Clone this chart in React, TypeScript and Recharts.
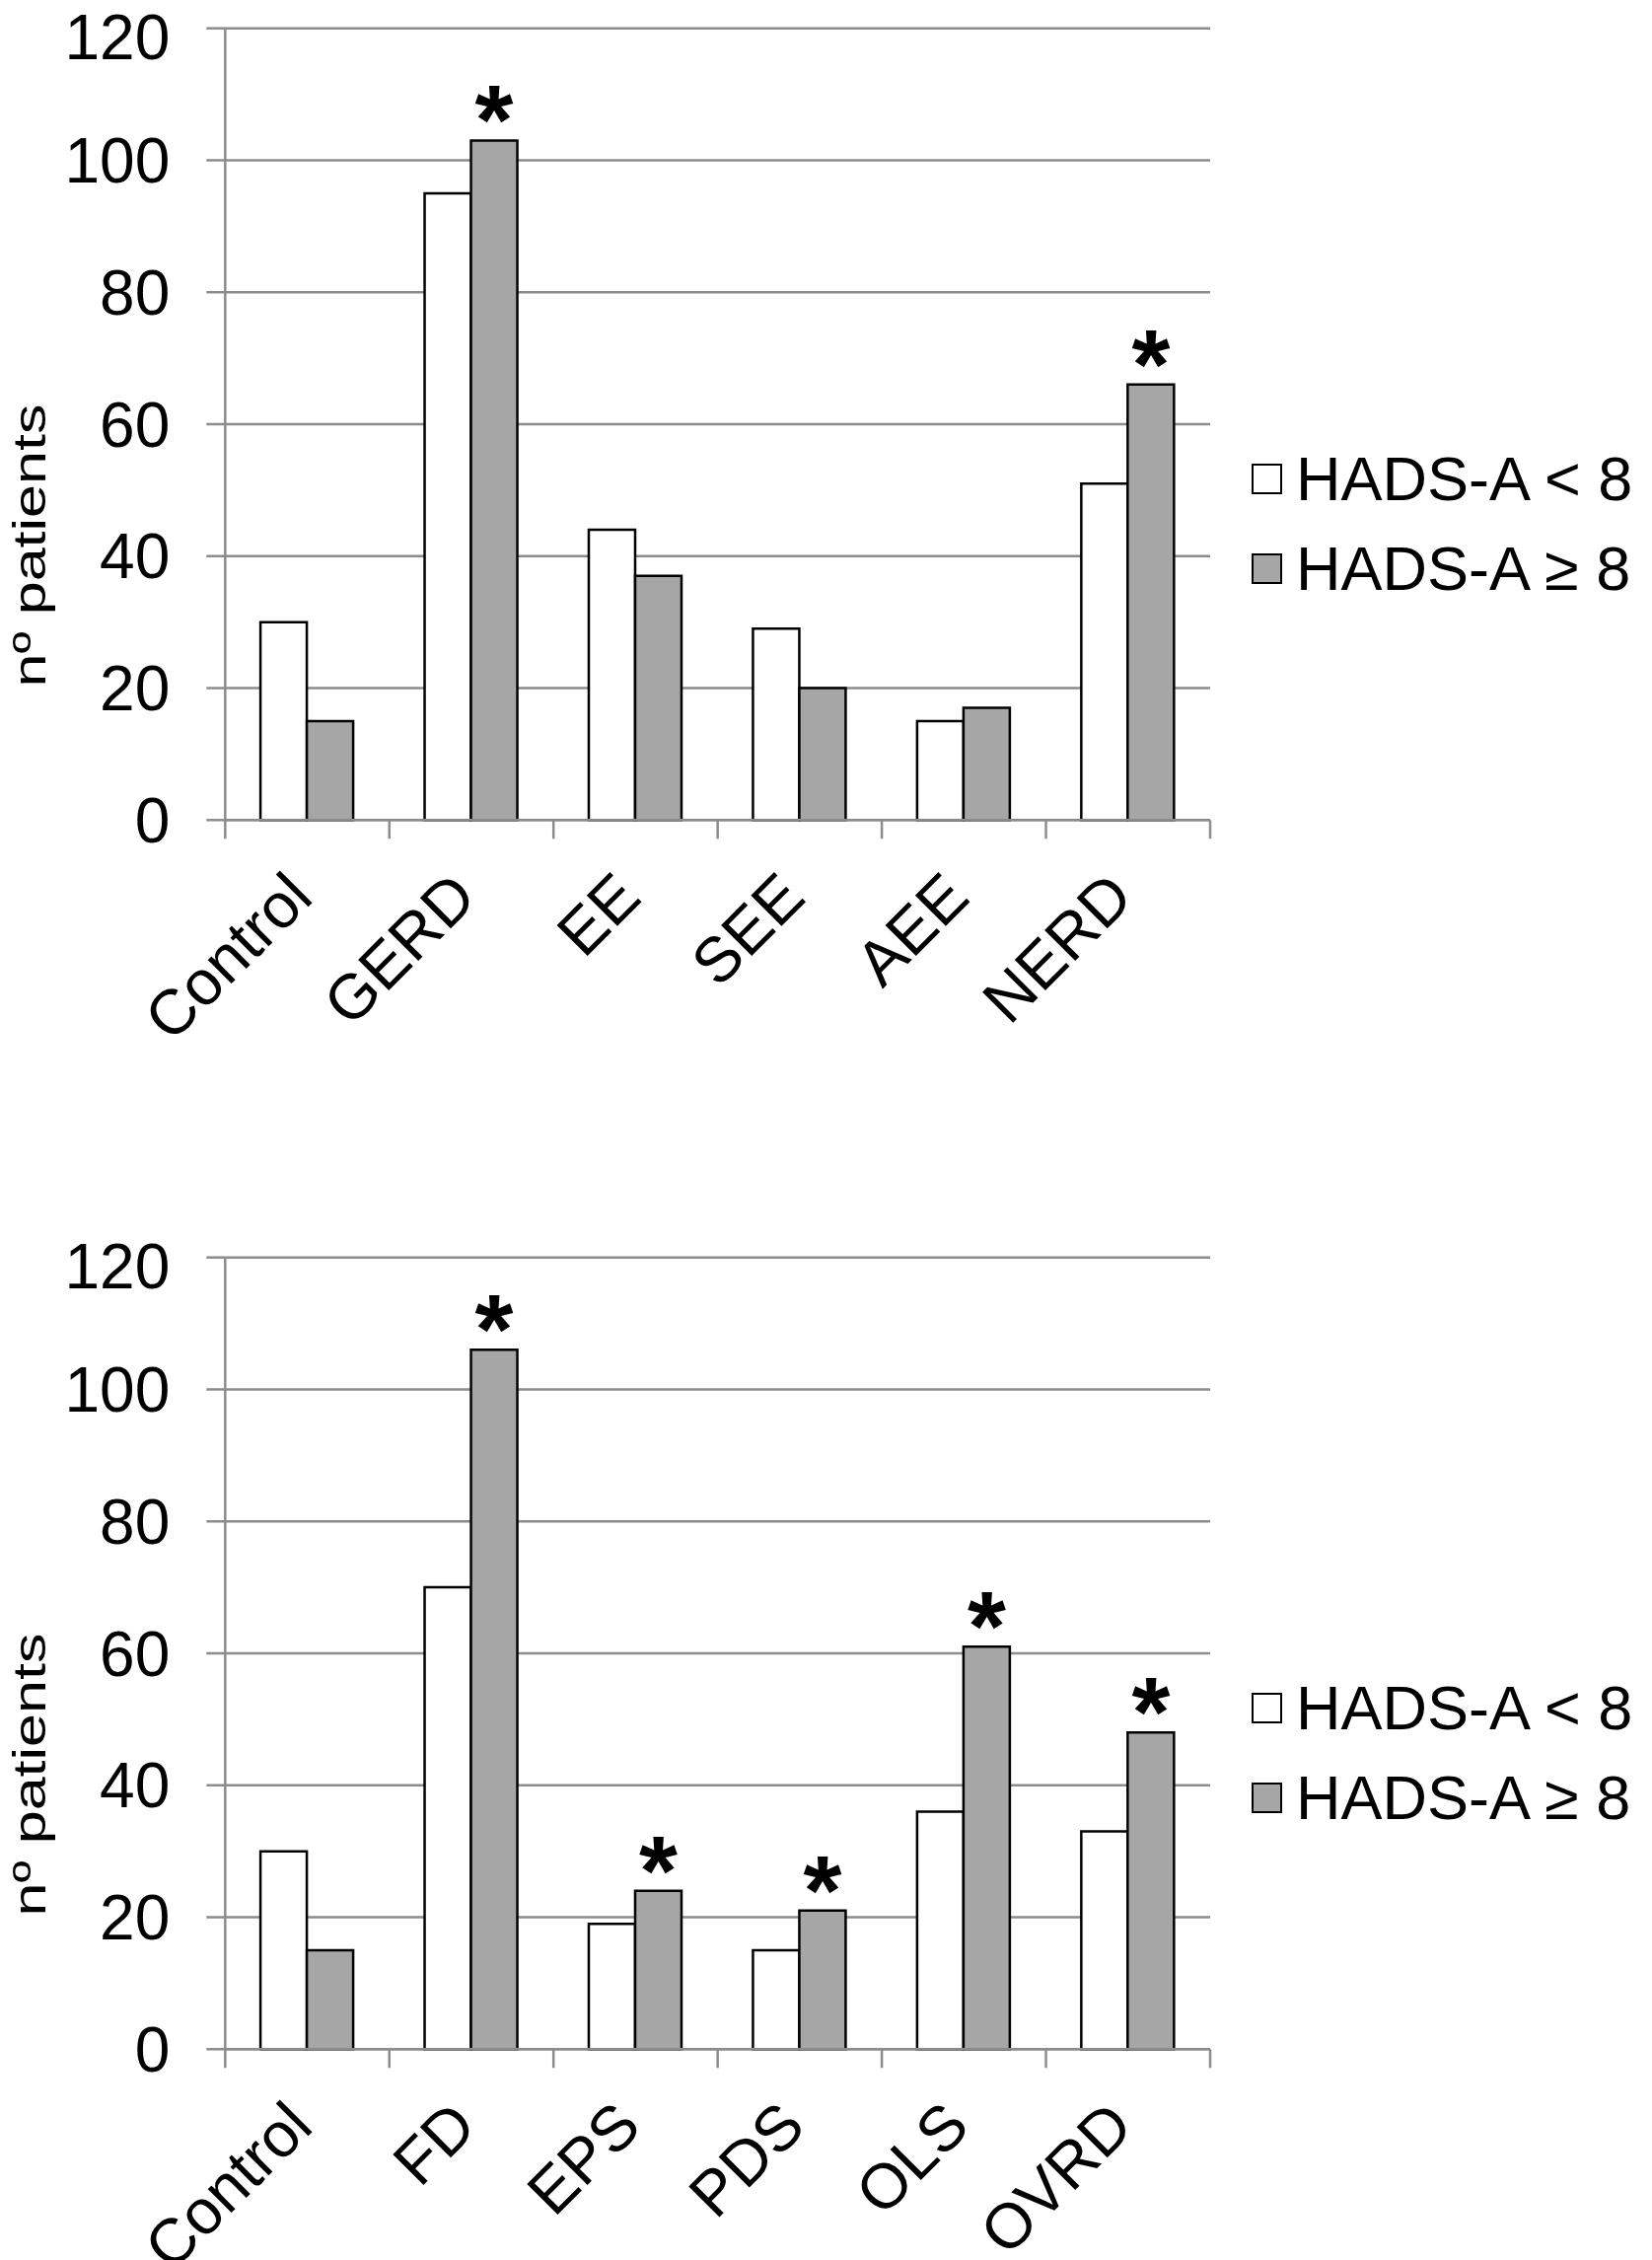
import { BarChart, Bar, XAxis, YAxis, CartesianGrid, Legend, LabelList } from 'recharts';

const FONT = '"Liberation Sans", Arial, sans-serif';
const GRID = '#8c8c8c';
const DARK_FILL = '#a6a6a6';

const topCategories = ['Control', 'GERD', 'EE', 'SEE', 'AEE', 'NERD'];
const topLow = [30, 95, 44, 29, 15, 51];
const topHigh = [15, 103, 37, 20, 17, 66];
const topSig = [false, true, false, false, false, true];

const bottomCategories = ['Control', 'FD', 'EPS', 'PDS', 'OLS', 'OVRD'];
const bottomLow = [30, 70, 19, 15, 36, 33];
const bottomHigh = [15, 106, 24, 21, 61, 48];
const bottomSig = [false, true, true, true, true, true];

const yTicks = [0, 20, 40, 60, 80, 100, 120];
const legendLabels = ['HADS-A < 8', 'HADS-A ≥ 8'];
const yLabel = 'nº patients';

const PLOT_W = 998.7;

// category name at -45deg, plus the Excel-style tick marks on the band edges
const CatTick = (props: any) => {
    const { x, y, payload, index, count } = props;
    const half = payload?.offset || PLOT_W / count / 2;
    const ax = x + 8;
    const ay = y + 81;
    return (
        <g>
            <line x1={x - half} x2={x - half} y1={y} y2={y + 19} stroke={GRID} strokeWidth={2.5} />
            {index === count - 1 && (
                <line x1={x + half} x2={x + half} y1={y} y2={y + 19} stroke={GRID} strokeWidth={2.5} />
            )}
            <text
                x={ax}
                y={ay}
                transform={`rotate(-45, ${ax}, ${ay})`}
                textAnchor="end"
                fontSize={64}
                fontFamily={FONT}
                fill="#000"
            >
                {payload.value}
            </text>
        </g>
    );
};

const YLabel = () => (
    <text
        x={46}
        y={553}
        transform="rotate(-90, 46, 553)"
        textAnchor="middle"
        fontSize={46}
        fontFamily={FONT}
        fill="#000"
        textLength={287}
        lengthAdjust="spacingAndGlyphs"
    >
        {yLabel}
    </text>
);

const LegendBox = () => (
    <div style={{ fontFamily: FONT, fontSize: 63, lineHeight: '63px', color: '#000' }}>
        {legendLabels.map((label, i) => (
            <div key={label} style={{ display: 'flex', alignItems: 'center', height: 91 }}>
                <div
                    style={{
                        width: 27,
                        height: 27,
                        border: '2px solid #000',
                        background: i === 0 ? '#fff' : DARK_FILL,
                        marginRight: 14,
                        flexShrink: 0
                    }}
                />
                <span style={{ whiteSpace: 'nowrap' }}>{label}</span>
            </div>
        ))}
    </div>
);

type PanelProps = {
    categories: string[];
    low: number[];
    high: number[];
    sig: boolean[];
};

const Panel = ({ categories, low, high, sig }: PanelProps) => {
    const data = categories.map((name, i) => ({ name, low: low[i], high: high[i] }));

    const renderStar = (p: any) => {
        if (!sig[p.index]) return null;
        return (
            <text
                key={`star-${p.index}`}
                x={p.x + p.width / 2}
                y={p.y + 14}
                textAnchor="middle"
                fontSize={100}
                fontWeight="bold"
                fontFamily={FONT}
                fill="#000"
            >
                *
            </text>
        );
    };

    return (
        <BarChart
            width={1675}
            height={1246}
            data={data}
            margin={{ top: 28.7, right: 448, left: 0, bottom: 0 }}
            barCategoryGap="21.5%"
            barGap={0}
        >
            <CartesianGrid horizontal vertical={false} stroke={GRID} strokeWidth={2.5} />
            <XAxis
                dataKey="name"
                height={414.7}
                axisLine={{ stroke: GRID, strokeWidth: 2.5 }}
                tickLine={false}
                tickSize={0}
                tickMargin={0}
                interval={0}
                tick={(p: any) => <CatTick {...p} count={categories.length} />}
            />
            <YAxis
                width={228.3}
                domain={[0, 120]}
                ticks={yTicks}
                tickSize={19}
                tickMargin={37}
                axisLine={{ stroke: GRID, strokeWidth: 2.5 }}
                tickLine={{ stroke: GRID, strokeWidth: 2.5 }}
                tick={{ fontSize: 64, fill: '#000', fontFamily: FONT }}
                label={<YLabel />}
            />
            <Legend
                layout="vertical"
                align="center"
                verticalAlign="middle"
                content={<LegendBox />}
                wrapperStyle={{ position: 'absolute', left: 1269, top: 440, width: 406, height: 182 }}
            />
            <Bar
                dataKey="low"
                name={legendLabels[0]}
                fill="#fff"
                stroke="#000"
                strokeWidth={2.5}
                isAnimationActive={false}
            />
            <Bar
                dataKey="high"
                name={legendLabels[1]}
                fill={DARK_FILL}
                stroke="#000"
                strokeWidth={2.5}
                isAnimationActive={false}
            >
                <LabelList dataKey="high" content={renderStar} />
            </Bar>
        </BarChart>
    );
};

export default function App() {
    return (
        <div style={{ width: 1675, background: '#fff' }}>
            <style>{'body{margin:0;background:#fff}'}</style>
            <Panel categories={topCategories} low={topLow} high={topHigh} sig={topSig} />
            <Panel categories={bottomCategories} low={bottomLow} high={bottomHigh} sig={bottomSig} />
        </div>
    );
}
